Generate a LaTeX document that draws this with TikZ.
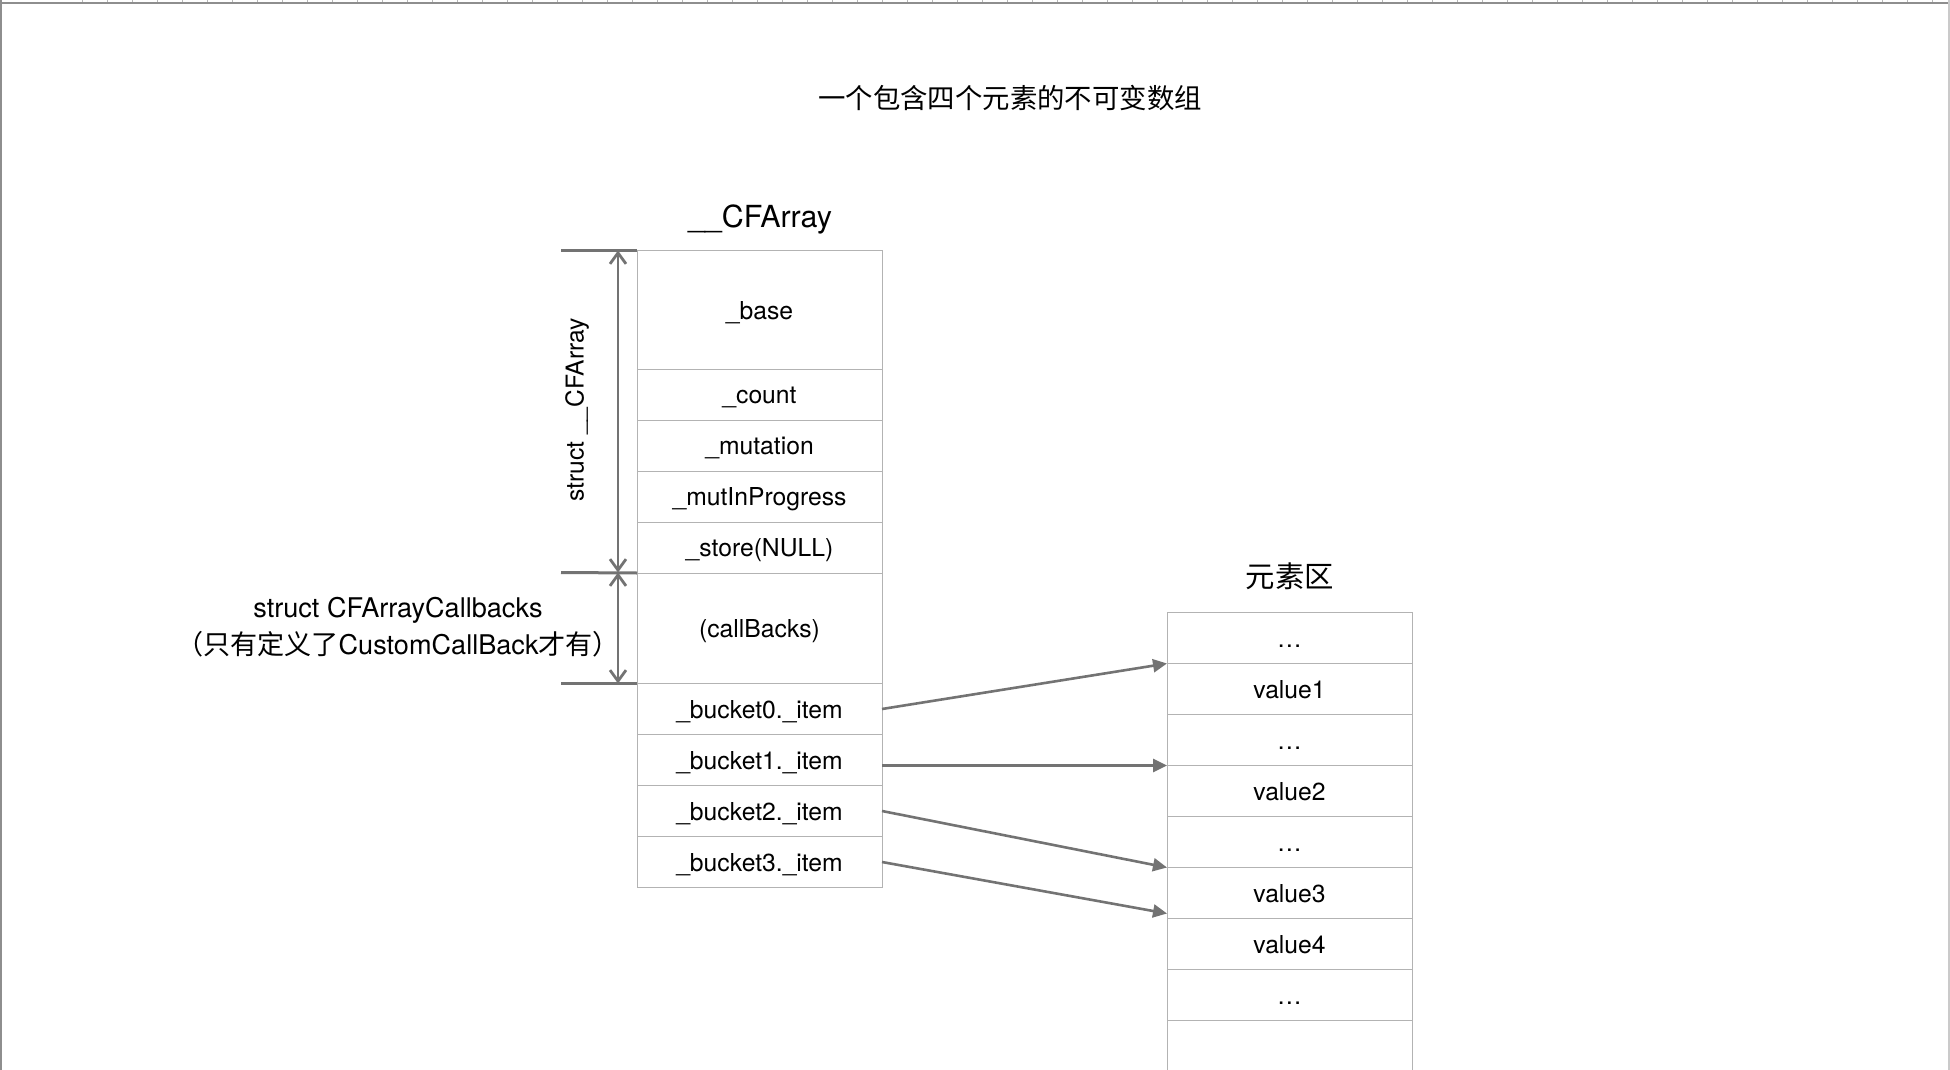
\documentclass[tikz,border=0pt]{standalone}
\usepackage{fontspec}
\setmainfont{TeX Gyre Heros}
\newfontfamily\cjk{Noto Sans CJK SC}
\usetikzlibrary{positioning,arrows.meta}
\definecolor{cellgray}{HTML}{B3B3B3}
\definecolor{arrowgray}{HTML}{737373}
\definecolor{rulegray}{HTML}{8E8E8E}
\definecolor{tickgray}{HTML}{B8B8B8}
\definecolor{edgegray}{HTML}{CACACA}
\begin{document}
\begin{tikzpicture}[x=.5pt, y=-.5pt,
  cellbox/.style={draw=cellgray, line width=.5pt, outer sep=0pt, inner sep=0pt,
    minimum width=122.5pt, minimum height=25.5pt, text height=9.9pt, text depth=.5pt,
    font=\fontsize{12.35pt}{14pt}\selectfont},
  ptrarrow/.style={draw=arrowgray, line width=1.3pt, -{Triangle[length=7pt, width=6.5pt]}},
  spanarrow/.style={draw=arrowgray, line width=1.4pt,
    {Straight Barb[length=5.5pt, width=8pt]}-{Straight Barb[length=5.5pt, width=8pt]}},
  spanline/.style={draw=arrowgray, line width=1.5pt},
  bigtext/.style={font=\fontsize{15.2pt}{17pt}\selectfont},
  bigcjk/.style={font=\cjk\fontsize{14.7pt}{17pt}\selectfont}]
\useasboundingbox (0,0) rectangle (1950,1070);
\draw[rulegray, line width=1pt](0,3)--(1950,3);
\draw[rulegray, line width=1pt](1,0)--(1,1070);
\draw[edgegray, line width=1pt](1949,0)--(1949,1070);
\foreach \i in {0,...,74} \draw[tickgray, line width=.5pt]({82.7+25*\i},0)--++(0,2.2);

\node[bigcjk, font=\cjk\fontsize{13.7pt}{16pt}\selectfont] (title) at (1010,98) {一个包含四个元素的不可变数组};
\node[bigtext] (arrname) at (760,219) {\_\_CFArray};

\node[cellbox, anchor=north, minimum height=59.25pt] (base) at (759.5,250.5) {\_base};
\node[cellbox, below=0pt of base] (count) {\_count};
\node[cellbox, below=0pt of count] (mutation) {\_mutation};
\node[cellbox, below=0pt of mutation] (progress) {\_mutInProgress};
\node[cellbox, below=0pt of progress] (store) {\_store(NULL)};
\node[cellbox, below=0pt of store, minimum height=55.25pt] (callbacks) {(callBacks)};
\node[cellbox, below=0pt of callbacks] (bucket0) {\_bucket0.\_item};
\node[cellbox, below=0pt of bucket0] (bucket1) {\_bucket1.\_item};
\node[cellbox, below=0pt of bucket1] (bucket2) {\_bucket2.\_item};
\node[cellbox, below=0pt of bucket2] (bucket3) {\_bucket3.\_item};

\coordinate (topmark) at (561,250.5);
\coordinate (midmark) at (561,572.5);
\coordinate (lowmark) at (561,683.5);
\draw[spanline](topmark)--(base.north west);
\draw[spanline](midmark)--(store.south west);
\draw[spanline](lowmark)--(callbacks.south west);
\draw[spanarrow]([xshift=28.5pt]topmark)--([xshift=28.5pt]midmark);
\draw[spanarrow]([xshift=28.5pt]midmark)--([xshift=28.5pt]lowmark);
\node[rotate=90, font=\fontsize{12.3pt}{14pt}\selectfont] (structname) at (577,410) {struct \_\_CFArray};
\node[align=center, font=\fontsize{13.55pt}{18.4pt}\selectfont] (cbnote) at (398,627)
  {struct CFArrayCallbacks\\{\cjk （只有定义了}CustomCallBack{\cjk 才有）}};

\node[bigcjk] (zone) at (1290,576) {元素区};
\node[cellbox, anchor=north] (dots0) at (1289.5,612.5) {…};
\node[cellbox, below=0pt of dots0] (value1) {value1};
\node[cellbox, below=0pt of value1] (dots1) {…};
\node[cellbox, below=0pt of dots1] (value2) {value2};
\node[cellbox, below=0pt of value2] (dots2) {…};
\node[cellbox, below=0pt of dots2] (value3) {value3};
\node[cellbox, below=0pt of value3] (value4) {value4};
\node[cellbox, below=0pt of value4] (dots3) {…};
\draw[cellgray, line width=.5pt](dots3.south west)--(dots3.south west |- 0,1070);
\draw[cellgray, line width=.5pt](dots3.south east)--(dots3.south east |- 0,1070);

\draw[ptrarrow](bucket0.east)--(value1.north west);
\draw[ptrarrow](bucket1.east |- value2.north west)--(value2.north west);
\draw[ptrarrow](bucket2.east)--(value3.north west);
\draw[ptrarrow](bucket3.east)--([yshift=2.5pt]value4.north west);
\end{tikzpicture}
\end{document}
